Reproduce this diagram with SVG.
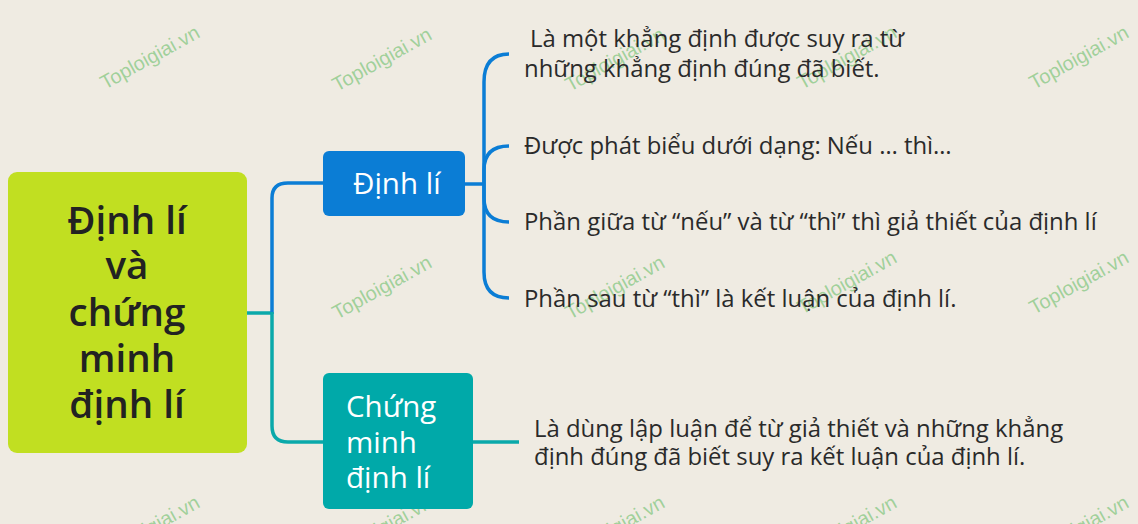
<svg xmlns="http://www.w3.org/2000/svg" width="1138" height="524" viewBox="0 0 1138 524">
<style>
.wm{font-family:"Liberation Sans",Arial,sans-serif;font-size:20px;fill:#5dba5d;fill-opacity:0.55}
.t{font-family:"Open Sans","Noto Sans",sans-serif;font-size:23.9px;fill:#2a2a2a}
.main{font-family:"Open Sans","Noto Sans",sans-serif;font-size:38.5px;font-weight:600;fill:#222;text-anchor:middle}
.sub{font-family:"Open Sans","Noto Sans",sans-serif;font-size:29.5px;fill:#fff}
.cb{fill:none;stroke:#0b7dd5;stroke-width:3.5}
.ct{fill:none;stroke:#0aa9aa;stroke-width:3.5}
</style>
<rect width="1138" height="524" fill="#efebe2"/>
<g id="watermarks">
<text class="wm" transform="translate(105,90) rotate(-29)">Toploigiai.vn</text>
<text class="wm" transform="translate(337,92) rotate(-29)">Toploigiai.vn</text>
<text class="wm" transform="translate(570,92) rotate(-29)">Toploigiai.vn</text>
<text class="wm" transform="translate(802,90) rotate(-29)">Toploigiai.vn</text>
<text class="wm" transform="translate(1034,90) rotate(-29)">Toploigiai.vn</text>
<text class="wm" transform="translate(337,320) rotate(-29)">Toploigiai.vn</text>
<text class="wm" transform="translate(570,320) rotate(-29)">Toploigiai.vn</text>
<text class="wm" transform="translate(802,315) rotate(-29)">Toploigiai.vn</text>
<text class="wm" transform="translate(1034,315) rotate(-29)">Toploigiai.vn</text>
<text class="wm" transform="translate(105,560) rotate(-29)">Toploigiai.vn</text>
<text class="wm" transform="translate(337,560) rotate(-29)">Toploigiai.vn</text>
<text class="wm" transform="translate(570,560) rotate(-29)">Toploigiai.vn</text>
<text class="wm" transform="translate(802,560) rotate(-29)">Toploigiai.vn</text>
<text class="wm" transform="translate(1034,560) rotate(-29)">Toploigiai.vn</text>
</g>
<g id="connectors">
<path class="ct" d="M246,313 H272"/>
<path class="cb" d="M272,314 V198 Q272,183 288,183 H324"/>
<path class="ct" d="M272,312 V426 Q272,442 288,442 H324"/>
<path class="cb" d="M464,184 H484"/>
<path class="cb" d="M484,184 V82 Q484,54 509,54"/>
<path class="cb" d="M484,184 V170 Q484,146 509,146"/>
<path class="cb" d="M484,184 V198 Q484,222 509,222"/>
<path class="cb" d="M484,184 V272 Q484,298 509,298"/>
<path class="ct" d="M472,442 H519"/>
</g>
<g id="root">
<rect x="8" y="172" width="239" height="281" rx="9" fill="#c1df21"/>
<text class="main" x="127" y="234">Định lí</text>
<text class="main" x="127" y="279">và</text>
<text class="main" x="127" y="326">chứng</text>
<text class="main" x="127" y="372">minh</text>
<text class="main" x="127" y="418">định lí</text>
</g>
<g id="dinh-li">
<rect x="323" y="151" width="142" height="65" rx="6" fill="#0b7dd5"/>
<text class="sub" x="353" y="194">Định lí</text>
</g>
<g id="chung-minh">
<rect x="323" y="373" width="150" height="136" rx="6" fill="#00a9a9"/>
<text class="sub" x="346" y="417">Chứng</text>
<text class="sub" x="346" y="453">minh</text>
<text class="sub" x="346" y="488">định lí</text>
</g>
<g id="leaf1"><text class="t" x="530" y="47">Là một khẳng định được suy ra từ</text><text class="t" x="524" y="77">những khẳng định đúng đã biết.</text></g>
<g id="leaf2"><text class="t" x="524" y="154">Được phát biểu dưới dạng: Nếu … thì…</text></g>
<g id="leaf3"><text class="t" x="524" y="230">Phần giữa từ “nếu” và từ “thì” thì giả thiết của định lí</text></g>
<g id="leaf4"><text class="t" x="524" y="307">Phần sau từ “thì” là kết luận của định lí.</text></g>
<g id="leaf5"><text class="t" x="534" y="437">Là dùng lập luận để từ giả thiết và những khẳng</text><text class="t" x="534" y="465">định đúng đã biết suy ra kết luận của định lí.</text></g>
</svg>
